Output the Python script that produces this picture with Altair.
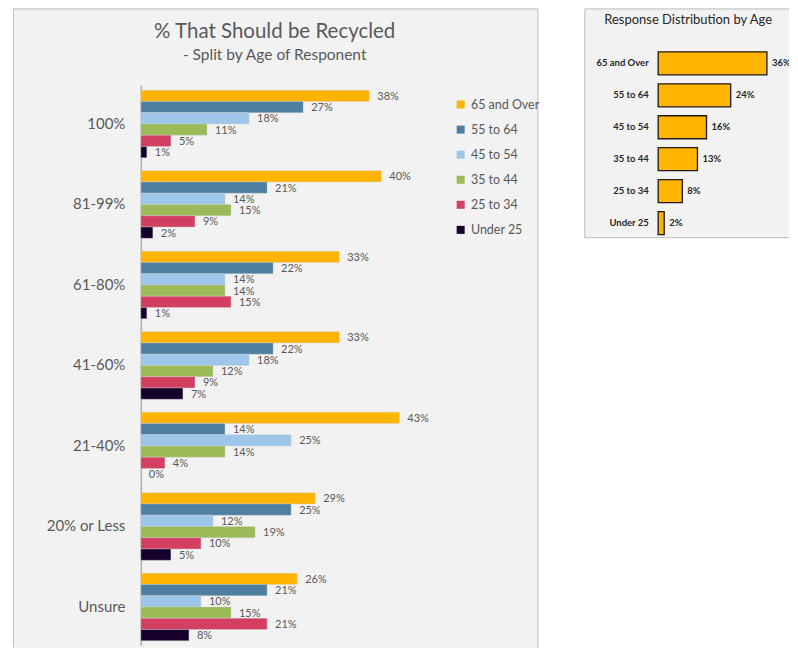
import altair as alt
import pandas as pd

# ---------------- data ----------------
ages = ["65 and Over", "55 to 64", "45 to 54", "35 to 44", "25 to 34", "Under 25"]
cats = ["100%", "81-99%", "61-80%", "41-60%", "21-40%", "20% or Less", "Unsure"]
v65 = [38, 40, 33, 33, 43, 29, 26]
v55 = [27, 21, 22, 22, 14, 25, 21]
v45 = [18, 14, 14, 18, 25, 12, 10]
v35 = [11, 15, 14, 12, 14, 19, 15]
v25 = [5, 9, 15, 9, 4, 10, 21]
vU25 = [1, 2, 1, 7, 0, 5, 8]
dist = [36, 24, 16, 13, 8, 2]

colors = ["#FFB400", "#4E7FA1", "#9DC6EA", "#9BBB59", "#D23F60", "#14002B"]
FONT = "Lato"
GREY = "#595959"
DARK = "#262626"
BORDER = "#BFBFBF"

series = [v65, v55, v45, v35, v25, vU25]
rows = []
for age, vals in zip(ages, series):
    for c, v in zip(cats, vals):
        rows.append({"cat": c, "age": age, "val": v, "lab": f"{v}%"})
df_left = pd.DataFrame(rows)
df_right = pd.DataFrame({"age": ages, "val": dist, "lab": [f"{d}%" for d in dist]})

one = pd.DataFrame({"k": [0]})

# ---------------- left panel ----------------
LW, LH = 526, 640
yL = alt.Y("cat:N", sort=cats,
           scale=alt.Scale(range=[77, 638], paddingInner=0.16, paddingOuter=0.06),
           axis=alt.Axis(title=None, offset=-128, domainColor="#B0B0B0", domainWidth=1.5,
                         ticks=False, labelFontSize=15, labelColor=GREY, labelFont=FONT,
                         labelPadding=16))
yOffL = alt.YOffset("age:N", sort=ages, scale=alt.Scale(paddingInner=0, paddingOuter=0))
xL = alt.X("val:Q", scale=alt.Scale(domain=[0, 50], range=[128, 429]), axis=None)

baseL = alt.Chart(df_left)
barsL = baseL.mark_bar(stroke="#D0D0D0", strokeWidth=0.4).encode(
    y=yL, yOffset=yOffL, x=xL,
    color=alt.Color("age:N", sort=ages, scale=alt.Scale(domain=ages, range=colors),
                    legend=alt.Legend(title=None, orient="none", legendX=442, legendY=90,
                                      symbolType="square", symbolSize=64, symbolStrokeWidth=0,
                                      labelFontSize=12.5, labelColor=GREY, labelFont=FONT,
                                      rowPadding=12.1, labelOffset=4)),
)
textL = baseL.mark_text(align="left", dx=8, dy=1, fontSize=11, color=GREY, font=FONT).encode(
    y=yL, yOffset=yOffL, x=xL, text="lab:N")

titleL = alt.Chart(pd.DataFrame({"t": ["% That Should be Recycled"]})).mark_text(
    fontSize=20.5, color=GREY, font=FONT).encode(text="t:N", x=alt.value(262), y=alt.value(24))
subL = alt.Chart(pd.DataFrame({"t": ["- Split by Age of Responent"]})).mark_text(
    fontSize=15.5, color=GREY, font=FONT).encode(text="t:N", x=alt.value(262), y=alt.value(47))

bL_top = alt.Chart(one).mark_rule(color=BORDER, strokeWidth=1).encode(
    x=alt.value(0.5), x2=alt.value(LW - 0.5), y=alt.value(0.5))
bL_left = alt.Chart(one).mark_rule(color=BORDER, strokeWidth=1).encode(
    x=alt.value(0.5), y=alt.value(0.5), y2=alt.value(LH))
bL_right = alt.Chart(one).mark_rule(color=BORDER, strokeWidth=1).encode(
    x=alt.value(LW - 0.5), y=alt.value(0.5), y2=alt.value(LH))

left = alt.layer(barsL, textL, titleL, subL, bL_top, bL_left, bL_right).properties(
    width=LW, height=LH)

# ---------------- right panel ----------------
RW, RH = 205, 230
yR = alt.Y("age:N", sort=ages,
           scale=alt.Scale(range=[39, 231], paddingInner=0.28, paddingOuter=0.14),
           axis=alt.Axis(title=None, offset=-74, domain=False, ticks=False,
                         labelFontSize=9.5, labelFontWeight="bold", labelColor=DARK,
                         labelFont=FONT, labelPadding=10))
xR = alt.X("val:Q", scale=alt.Scale(domain=[0, 40], range=[74, 195]), axis=None)
baseR = alt.Chart(df_right)
barsR = baseR.mark_bar(fill="#FFB400", stroke="#1F1A17", strokeWidth=1.3).encode(y=yR, x=xR)
textR = baseR.mark_text(align="left", dx=5, fontSize=9.5, fontWeight="bold", color=DARK,
                        font=FONT, clip=True).encode(y=yR, x=xR, text="lab:N")
titleR = alt.Chart(pd.DataFrame({"t": ["Response Distribution by Age"]})).mark_text(
    fontSize=13, color=DARK, font=FONT).encode(text="t:N", x=alt.value(104), y=alt.value(12))
bR_top = alt.Chart(one).mark_rule(color=BORDER, strokeWidth=1).encode(
    x=alt.value(0.5), x2=alt.value(RW), y=alt.value(0.5))
bR_left = alt.Chart(one).mark_rule(color=BORDER, strokeWidth=1).encode(
    x=alt.value(0.5), y=alt.value(0.5), y2=alt.value(RH - 0.5))
bR_bot = alt.Chart(one).mark_rule(color=BORDER, strokeWidth=1).encode(
    x=alt.value(0.5), x2=alt.value(RW), y=alt.value(RH - 0.5))

right = alt.layer(barsR, textR, titleR, bR_top, bR_left, bR_bot).properties(
    width=RW, height=RH)

chart = alt.hconcat(left, right, spacing=46).properties(
    padding={"left": 5, "top": 0, "right": 0, "bottom": 0},
    background="white",
).configure_view(fill="#F2F2F2", stroke=None).configure_axis(grid=False)

chart.save("out.html", embed_options={"renderer": "svg", "actions": False})
